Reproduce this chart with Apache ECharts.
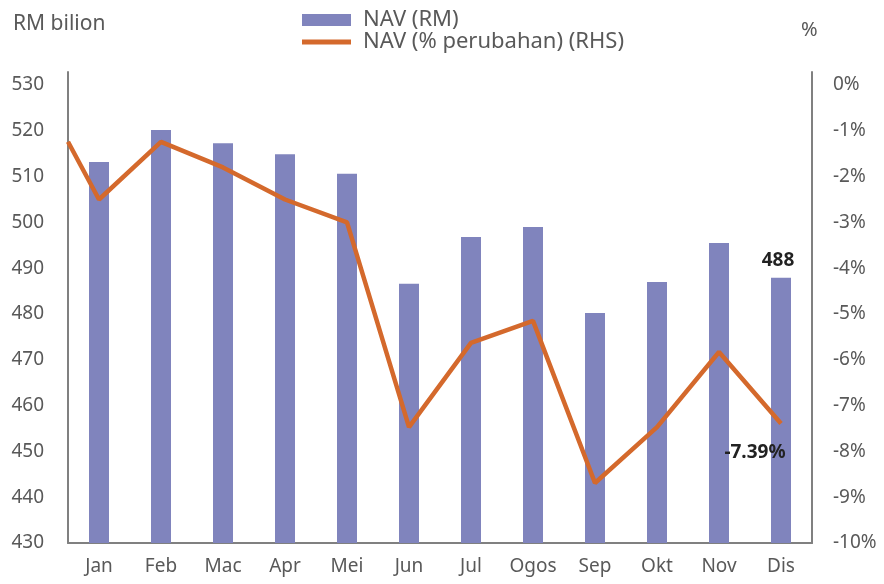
<!DOCTYPE html>
<html>
<head>
<meta charset="utf-8">
<script src="https://cdn.jsdelivr.net/npm/echarts@6/dist/echarts.min.js"></script>
<style>
  html, body { margin: 0; padding: 0; background: #fff; }
  #chart { width: 884px; height: 584px; }
</style>
</head>
<body>
<div id="chart"></div>
<script>
const categories = ['Jan', 'Feb', 'Mac', 'Apr', 'Mei', 'Jun', 'Jul', 'Ogos', 'Sep', 'Okt', 'Nov', 'Dis']
const navRM = [513.2, 520.2, 517.3, 514.9, 510.6, 486.6, 496.8, 499.0, 480.2, 487.0, 495.5, 487.9]
// opening value, drawn at the left edge of the plot
const pctStart = -1.24
const pctChange = [-2.5, -1.24, -1.8, -2.5, -3.0, -7.47, -5.63, -5.15, -8.69, -7.47, -5.83, -7.39]
const leftTicks = { min: 430, max: 530, interval: 10 }
const rightTicks = { min: -10, max: 0, interval: 1 }

const FONT = '"Noto Sans", sans-serif'
const GREY = '#595959'
const AXIS = '#808080'
const last = categories.length - 1
// axis lines run a little above the top tick
const headroom = 0.284

var chart = echarts.init(document.getElementById('chart'))

var lineData = [[-0.5, pctStart]].concat(pctChange.map((v, i) => [i, v]))

chart.setOption({
  animation: false,
  textStyle: { fontFamily: FONT },
  grid: { left: 68, right: 72, top: 72, bottom: 41 },
  legend: [{
    data: ['NAV (RM)'],
    left: 297, top: 4,
    itemWidth: 49, itemHeight: 12,
    icon: 'rect',
    textStyle: { color: GREY, fontSize: 22, fontFamily: FONT, padding: [2, 0, 0, 7] }
  }, {
    data: ['NAV (% perubahan) (RHS)'],
    left: 297, top: 26,
    itemWidth: 49, itemHeight: 5,
    icon: 'rect',
    textStyle: { color: GREY, fontSize: 22, fontFamily: FONT, padding: [6, 0, 0, 7] }
  }],
  graphic: [
    { type: 'text', left: 13, top: 14, style: { text: 'RM bilion', fill: GREY, font: '21px ' + FONT } },
    { type: 'text', left: 801, top: 20, style: { text: '%', fill: GREY, font: '20px ' + FONT } }
  ],
  xAxis: [{
    type: 'category',
    data: categories,
    axisLine: { onZero: false, lineStyle: { color: AXIS, width: 2 } },
    axisTick: { show: false },
    axisLabel: { color: GREY, fontSize: 19, margin: 14, fontFamily: FONT }
  }, {
    type: 'value',
    min: -0.5, max: last + 0.5,
    show: false
  }],
  yAxis: [{
    type: 'value',
    min: leftTicks.min, max: leftTicks.max + headroom * leftTicks.interval, interval: leftTicks.interval,
    axisLine: { show: true, onZero: false, lineStyle: { color: AXIS, width: 2 } },
    axisTick: { show: false },
    splitLine: { show: false },
    axisLabel: { color: GREY, fontSize: 19, margin: 24, fontFamily: FONT, showMaxLabel: false }
  }, {
    type: 'value',
    min: rightTicks.min, max: rightTicks.max + headroom * rightTicks.interval, interval: rightTicks.interval,
    position: 'right',
    axisLine: { show: true, onZero: false, lineStyle: { color: AXIS, width: 2 } },
    axisTick: { show: false },
    splitLine: { show: false },
    axisLabel: { color: GREY, fontSize: 19, margin: 21, fontFamily: FONT, formatter: '{value}%', showMaxLabel: false }
  }],
  series: [{
    name: 'NAV (RM)',
    type: 'bar',
    data: navRM,
    barWidth: 20,
    itemStyle: { color: '#8084BD' },
    label: {
      show: true,
      position: 'top',
      distance: 8,
      offset: [-3, 0],
      color: '#222',
      fontWeight: 'bold',
      fontSize: 19,
      fontFamily: FONT,
      formatter: p => p.dataIndex === last ? Math.round(p.value) : ''
    }
  }, {
    name: 'NAV (% perubahan) (RHS)',
    type: 'line',
    xAxisIndex: 1,
    yAxisIndex: 1,
    data: lineData,
    symbol: 'circle',
    symbolSize: 0.1,
    showSymbol: true,
    lineStyle: { color: '#D4692C', width: 4.5 },
    itemStyle: { color: '#D4692C' },
    label: {
      show: true,
      position: 'bottom',
      distance: 20,
      offset: [-26, 0],
      color: '#222',
      fontWeight: 'bold',
      fontSize: 19,
      fontFamily: FONT,
      formatter: p => p.dataIndex === lineData.length - 1 ? p.value[1].toFixed(2) + '%' : ''
    }
  }]
})
</script>
</body>
</html>
